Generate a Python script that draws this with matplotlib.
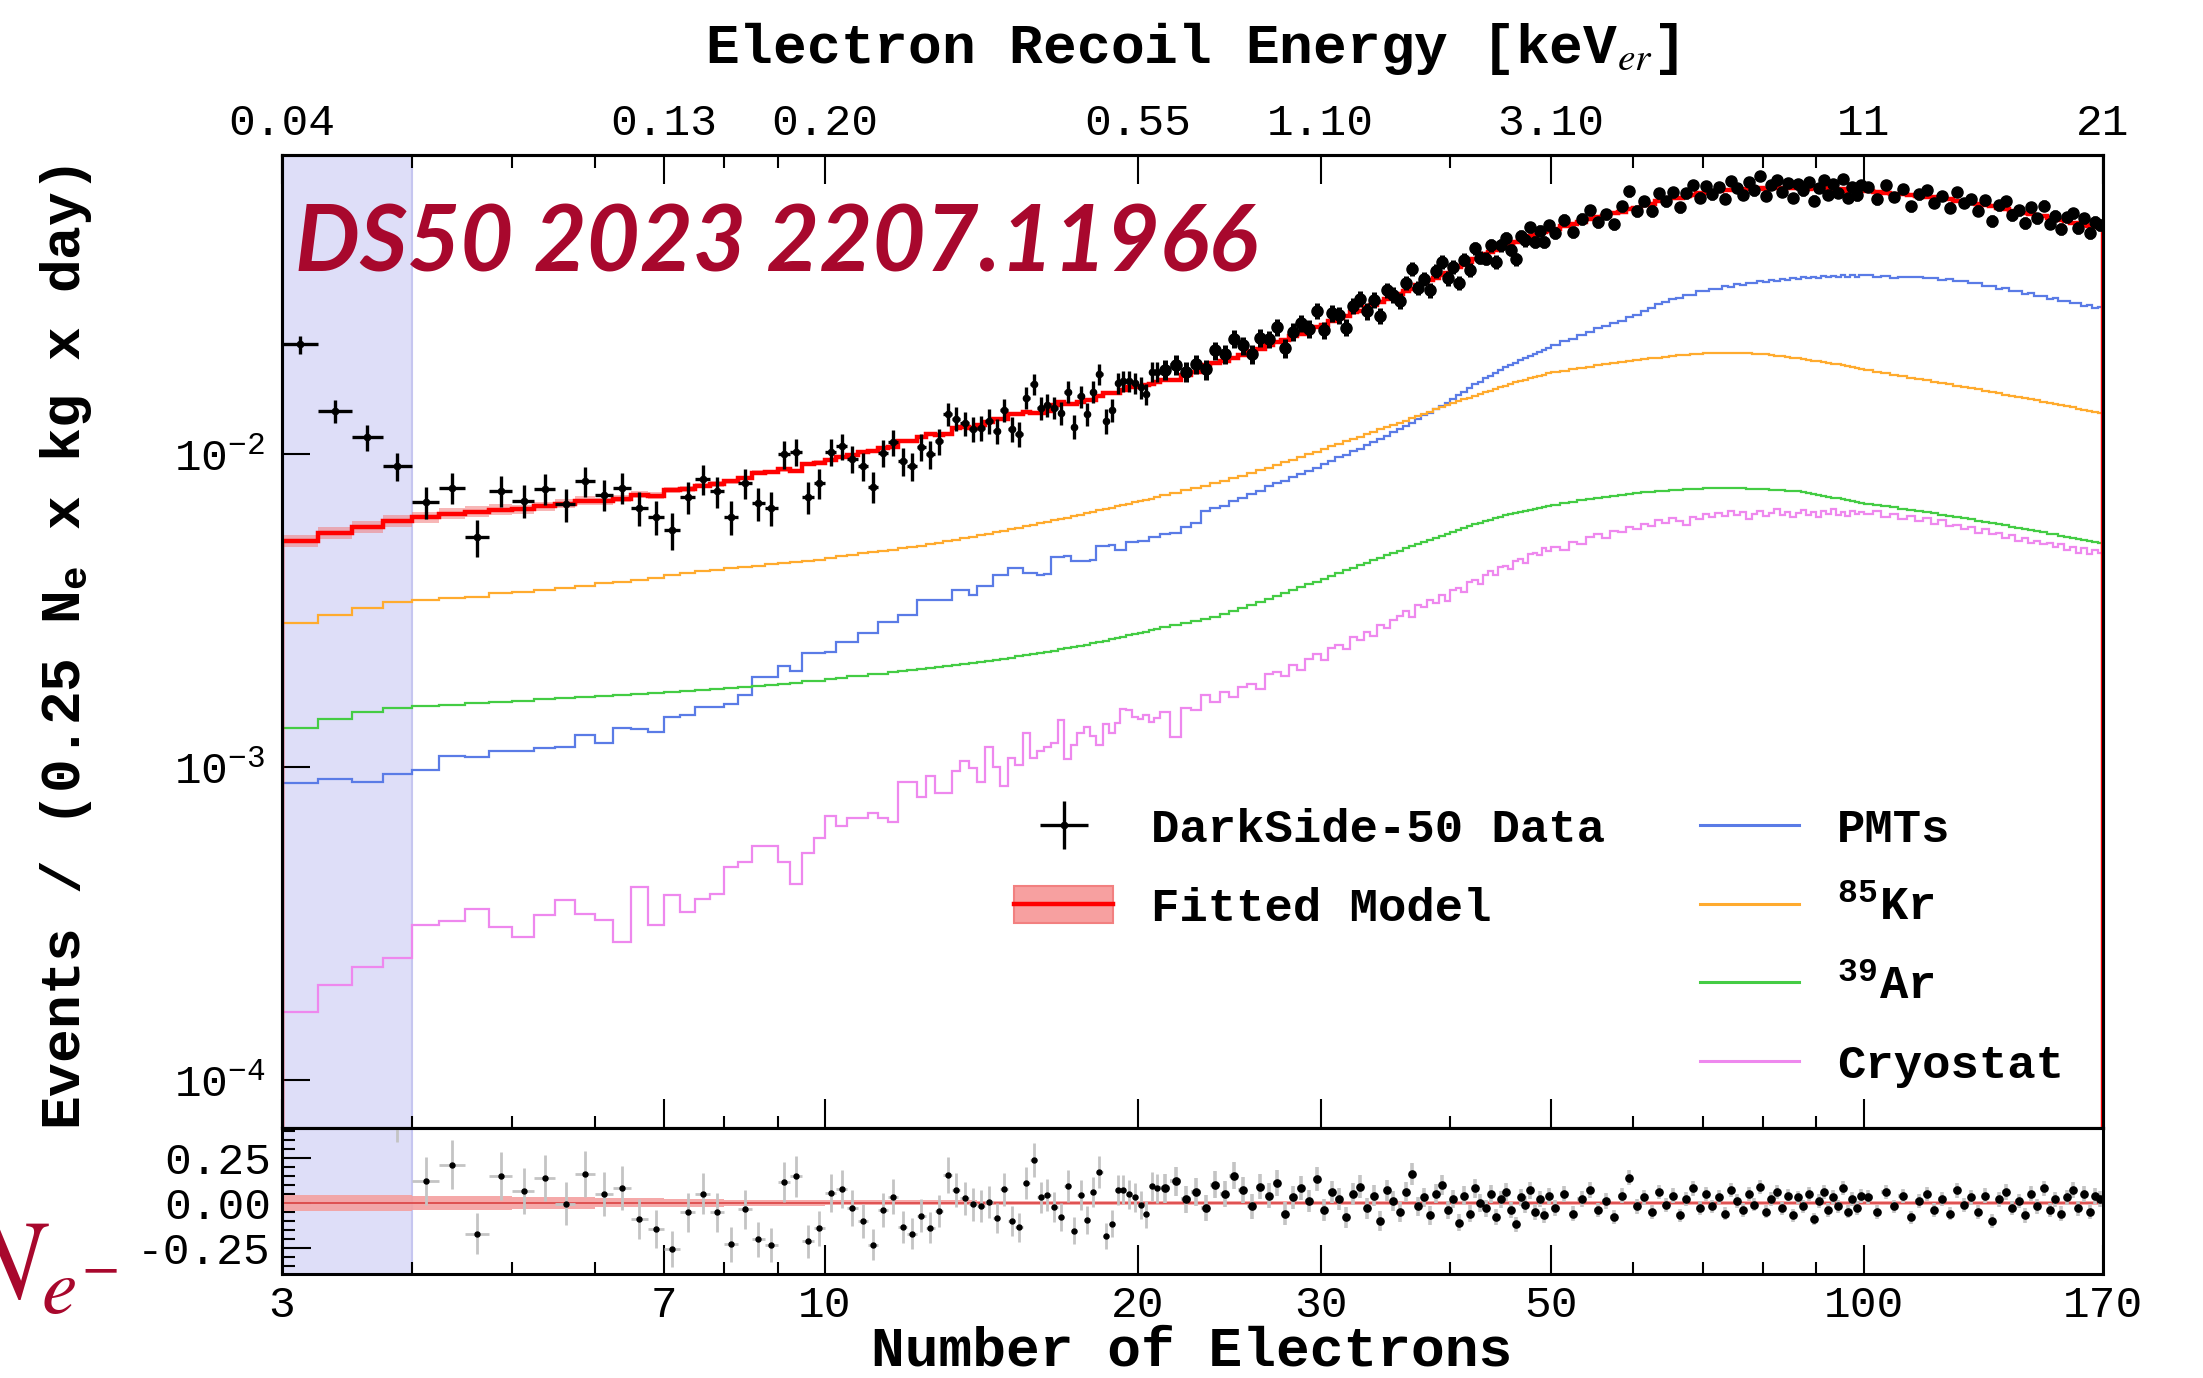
import numpy as np
import matplotlib.pyplot as plt
from matplotlib.ticker import FixedLocator, NullLocator, MultipleLocator
from matplotlib.patches import Patch
from matplotlib.lines import Line2D

plt.rcParams['font.family'] = 'Liberation Mono'
plt.rcParams['mathtext.fontset'] = 'stix'

# bin edges in number of electrons (0.25 Ne bins below 21, coarser above)
edges = np.concatenate([np.arange(3, 21, 0.25), np.arange(21, 50, 0.5),
                        np.arange(50, 100, 1.0), np.arange(100, 170.1, 2.0)])

# rates in units of 1e-3 events / (0.25 Ne x kg x day)
data = np.array([
    22.4, 13.77, 11.32, 9.15, 7.04, 7.82, 5.42, 7.64, 7.10, 7.75,
    6.91, 8.22, 7.43, 7.82, 6.73, 6.30, 5.71, 7.31, 8.34, 7.60,
    6.31, 8.07, 6.96, 6.73, 9.98, 10.14, 7.31, 8.07, 10.14, 10.58,
    9.66, 9.14, 7.86, 10.08, 10.91, 9.51, 9.14, 10.56, 9.98, 11.02,
    13.43, 12.98, 12.56, 12.04, 12.14, 12.77, 11.88, 13.87, 12.04, 11.59,
    15.15, 16.71, 14.00, 14.32, 14.09, 13.55, 15.81, 12.25, 15.31, 13.43,
    15.81, 18.03, 12.77, 13.87, 16.87, 17.14, 17.14, 16.87, 16.33, 15.56,
    18.32, 18.32,
    18.61, 19.30, 18.30, 19.40, 18.64, 21.43, 20.90, 23.35, 22.25, 20.86,
    23.57, 23.28, 25.40, 21.79, 24.57, 26.19, 25.14, 28.70, 24.84, 28.16,
    27.75, 25.36, 29.79, 31.34, 28.60, 31.15, 27.65, 33.36, 32.26, 30.94,
    35.25, 39.03, 33.97, 36.31, 33.43, 38.44, 41.18, 36.40, 39.71, 35.27,
    41.84, 38.72, 45.38, 42.44, 42.11, 46.39, 41.14, 46.42, 49.05, 44.91,
    41.88, 49.72, 48.21, 53.02, 47.64, 51.51, 47.71, 53.79,
    50.93, 56.05, 51.09, 56.32, 60.12, 54.96, 58.29, 54.21, 61.85, 69.05,
    59.84, 64.22, 59.79, 68.07, 64.10, 68.57, 61.38, 68.11, 72.62, 65.96,
    71.75, 67.56, 71.16, 65.46, 74.68, 70.88, 67.27, 73.77, 69.55, 77.32,
    66.91, 72.38, 75.09, 68.79, 73.48, 65.83, 72.68, 69.60, 73.84, 64.45,
    70.82, 74.91, 67.22, 72.64, 68.37, 75.73, 65.90, 71.32, 67.14, 72.20,
    71.31, 65.19, 72.46, 66.40, 70.25, 61.86, 67.56, 69.70, 63.48, 66.87,
    61.25, 68.91, 63.46, 65.29, 59.88, 64.77, 55.68, 62.24, 64.36, 58.03,
    60.12, 54.66, 61.39, 56.57, 62.08, 54.51, 57.67, 52.44, 57.15, 58.69,
    52.92, 56.67, 50.99, 55.20, 54.00]) * 1e-3

kr85 = np.array([
    2.88, 3.06, 3.23, 3.38, 3.41, 3.47, 3.51, 3.59, 3.62, 3.68,
    3.74, 3.80, 3.87, 3.90, 3.95, 4.03, 4.10, 4.16, 4.23, 4.28,
    4.33, 4.37, 4.41, 4.45, 4.48, 4.52, 4.56, 4.60, 4.65, 4.72,
    4.78, 4.82, 4.86, 4.90, 4.95, 5.00, 5.05, 5.10, 5.15, 5.21,
    5.27, 5.33, 5.39, 5.45, 5.51, 5.57, 5.63, 5.70, 5.77, 5.83,
    5.89, 5.95, 6.01, 6.07, 6.14, 6.20, 6.27, 6.34, 6.41, 6.48,
    6.55, 6.61, 6.68, 6.75, 6.81, 6.88, 6.94, 7.01, 7.07, 7.14,
    7.21, 7.28,
    7.38, 7.52, 7.66, 7.80, 7.94, 8.08, 8.22, 8.37, 8.52, 8.70,
    8.88, 9.06, 9.24, 9.42, 9.60, 9.79, 9.98, 10.18, 10.38, 10.58,
    10.78, 10.98, 11.18, 11.38, 11.58, 11.79, 12.00, 12.20, 12.40, 12.60,
    12.80, 13.00, 13.25, 13.45, 13.65, 13.90, 14.10, 14.35, 14.55, 14.75,
    14.95, 15.15, 15.35, 15.55, 15.75, 15.95, 16.15, 16.35, 16.55, 16.75,
    16.95, 17.15, 17.30, 17.50, 17.65, 17.80, 17.95, 18.10,
    18.25, 18.45, 18.65, 18.85, 19.05, 19.25, 19.40, 19.55, 19.70, 19.85,
    20.00, 20.10, 20.25, 20.35, 20.45, 20.60, 20.70, 20.80, 20.90, 20.95,
    21.00, 21.05, 21.10, 21.10, 21.10, 21.10, 21.05, 21.00, 20.95, 20.90,
    20.85, 20.75, 20.65, 20.55, 20.45, 20.35, 20.25, 20.10, 20.00, 19.90,
    19.80, 19.70, 19.55, 19.45, 19.35, 19.20, 19.10, 18.95, 18.85, 18.70,
    18.55, 18.35, 18.15, 17.95, 17.75, 17.55, 17.40, 17.20, 17.05, 16.90,
    16.70, 16.55, 16.40, 16.25, 16.10, 15.95, 15.80, 15.65, 15.50, 15.35,
    15.20, 15.10, 14.95, 14.85, 14.70, 14.60, 14.45, 14.35, 14.20, 14.10,
    13.95, 13.85, 13.70, 13.60, 13.50]) * 1e-3

ar39 = np.array([
    1.34, 1.43, 1.50, 1.55, 1.57, 1.58, 1.60, 1.62, 1.63, 1.65,
    1.66, 1.68, 1.69, 1.70, 1.72, 1.73, 1.74, 1.75, 1.77, 1.78,
    1.79, 1.81, 1.82, 1.83, 1.85, 1.86, 1.88, 1.89, 1.91, 1.93,
    1.95, 1.96, 1.98, 1.99, 2.01, 2.03, 2.04, 2.06, 2.07, 2.09,
    2.11, 2.12, 2.14, 2.15, 2.17, 2.19, 2.20, 2.22, 2.24, 2.26,
    2.28, 2.30, 2.32, 2.34, 2.36, 2.38, 2.40, 2.42, 2.44, 2.46,
    2.49, 2.51, 2.54, 2.56, 2.59, 2.61, 2.64, 2.66, 2.69, 2.71,
    2.74, 2.77,
    2.80, 2.84, 2.88, 2.93, 2.98, 3.03, 3.09, 3.15, 3.22, 3.29,
    3.36, 3.44, 3.52, 3.60, 3.68, 3.76, 3.84, 3.92, 4.00, 4.09,
    4.18, 4.26, 4.34, 4.42, 4.50, 4.59, 4.67, 4.75, 4.84, 4.92,
    5.00, 5.08, 5.16, 5.25, 5.33, 5.41, 5.49, 5.57, 5.65, 5.73,
    5.81, 5.89, 5.97, 6.04, 6.11, 6.18, 6.25, 6.31, 6.37, 6.43,
    6.49, 6.55, 6.60, 6.65, 6.70, 6.75, 6.80, 6.85,
    6.90, 6.98, 7.05, 7.12, 7.19, 7.25, 7.31, 7.37, 7.42, 7.47,
    7.51, 7.55, 7.59, 7.62, 7.65, 7.68, 7.70, 7.72, 7.74, 7.75,
    7.78, 7.79, 7.79, 7.79, 7.79, 7.78, 7.77, 7.76, 7.75, 7.74,
    7.73, 7.71, 7.69, 7.67, 7.65, 7.63, 7.61, 7.57, 7.52, 7.47,
    7.42, 7.37, 7.32, 7.27, 7.22, 7.17, 7.12, 7.07, 7.02, 6.97,
    6.93, 6.87, 6.81, 6.76, 6.70, 6.64, 6.59, 6.53, 6.47, 6.41,
    6.36, 6.30, 6.25, 6.19, 6.13, 6.08, 6.02, 5.97, 5.92, 5.87,
    5.82, 5.77, 5.72, 5.67, 5.63, 5.58, 5.54, 5.49, 5.44, 5.40,
    5.36, 5.32, 5.27, 5.23, 5.19]) * 1e-3

pmts = np.array([
    0.891, 0.921, 0.897, 0.953, 0.984, 1.086, 1.080, 1.130, 1.130, 1.150,
    1.160, 1.270, 1.200, 1.340, 1.330, 1.300, 1.450, 1.470, 1.560, 1.560,
    1.590, 1.700, 1.940, 1.940, 2.110, 2.030, 2.320, 2.320, 2.340, 2.520,
    2.520, 2.690, 2.690, 2.920, 2.920, 3.060, 3.060, 3.410, 3.410, 3.410,
    3.430, 3.670, 3.670, 3.550, 3.790, 3.790, 4.120, 4.120, 4.320, 4.320,
    4.180, 4.180, 4.120, 4.140, 4.700, 4.700, 4.720, 4.550, 4.550, 4.570,
    4.600, 5.090, 5.090, 5.110, 4.930, 4.950, 5.260, 5.260, 5.300, 5.300,
    5.430, 5.450,
    5.55, 5.62, 5.85, 6.05, 6.60, 6.75, 6.85, 7.10, 7.25, 7.45,
    7.60, 7.90, 8.10, 8.20, 8.45, 8.65, 8.85, 9.00, 9.30, 9.50,
    9.80, 9.95, 10.25, 10.40, 10.70, 10.95, 11.20, 11.45, 11.75, 12.00,
    12.30, 12.55, 12.95, 13.30, 13.55, 13.95, 14.30, 14.60, 15.05, 15.40,
    15.85, 16.25, 16.75, 17.00, 17.45, 17.80, 18.20, 18.50, 18.95, 19.30,
    19.60, 19.95, 20.30, 20.60, 20.95, 21.20, 21.55, 21.85,
    22.3, 23.0, 23.4, 24.1, 24.5, 25.2, 25.6, 26.3, 26.7, 27.4,
    27.8, 28.7, 29.2, 30.1, 30.6, 31.4, 31.5, 32.3, 32.3, 33.1,
    33.1, 33.8, 33.7, 34.4, 34.3, 34.9, 34.7, 35.3, 35.1, 35.7,
    35.5, 36.0, 35.8, 36.3, 36.0, 36.5, 36.2, 36.7, 36.4, 36.9,
    36.6, 37.0, 36.7, 37.1, 36.8, 37.2, 36.8, 37.3, 36.9, 37.2,
    37.3, 36.8, 37.1, 36.6, 36.9, 36.7, 36.8, 36.4, 36.6, 36.1,
    36.2, 35.6, 35.7, 35.1, 35.2, 34.5, 34.5, 33.8, 33.9, 33.1,
    33.2, 32.5, 32.6, 31.9, 32.0, 31.4, 31.5, 30.8, 30.9, 30.3,
    30.4, 29.8, 29.9, 29.3, 29.4]) * 1e-3

cryostat = np.array([
    0.166, 0.202, 0.231, 0.246, 0.314, 0.322, 0.354, 0.308, 0.288, 0.337,
    0.378, 0.341, 0.326, 0.277, 0.414, 0.314, 0.391, 0.346, 0.381, 0.394,
    0.480, 0.500, 0.562, 0.562, 0.499, 0.425, 0.533, 0.594, 0.700, 0.649,
    0.689, 0.689, 0.716, 0.689, 0.667, 0.895, 0.895, 0.803, 0.940, 0.830,
    0.830, 0.972, 1.050, 0.996, 0.895, 1.164, 1.000, 0.872, 1.070, 1.020,
    1.285, 1.070, 1.130, 1.164, 1.200, 1.420, 1.060, 1.180, 1.290, 1.350,
    1.260, 1.180, 1.380, 1.285, 1.390, 1.540, 1.520, 1.450, 1.430, 1.470,
    1.400, 1.440,
    1.50, 1.25, 1.55, 1.52, 1.70, 1.62, 1.74, 1.68, 1.80, 1.85,
    1.78, 1.98, 2.02, 1.96, 2.12, 2.05, 2.22, 2.30, 2.20, 2.40,
    2.45, 2.38, 2.60, 2.55, 2.70, 2.62, 2.85, 2.78, 2.95, 3.05,
    3.15, 3.02, 3.30, 3.25, 3.42, 3.35, 3.55, 3.40, 3.68, 3.75,
    3.62, 3.90, 3.95, 3.85, 4.10, 4.25, 4.12, 4.35, 4.40, 4.30,
    4.55, 4.62, 4.50, 4.80, 4.85, 4.75, 5.00, 4.92,
    5.05, 4.95, 5.25, 5.15, 5.45, 5.55, 5.40, 5.70, 5.65, 5.85,
    5.75, 6.00, 5.90, 6.15, 6.05, 6.25, 6.10, 5.95, 6.30, 6.20,
    6.45, 6.30, 6.50, 6.35, 6.60, 6.40, 6.55, 6.20, 6.45, 6.60,
    6.35, 6.50, 6.70, 6.40, 6.55, 6.30, 6.50, 6.65, 6.40, 6.55,
    6.30, 6.60, 6.45, 6.70, 6.40, 6.55, 6.35, 6.60, 6.45, 6.55,
    6.45, 6.60, 6.30, 6.45, 6.20, 6.35, 6.10, 6.25, 6.00, 6.15,
    5.90, 5.95, 5.75, 5.85, 5.60, 5.75, 5.55, 5.60, 5.40, 5.50,
    5.30, 5.40, 5.20, 5.30, 5.15, 5.20, 5.05, 5.15, 4.95, 5.05,
    4.85, 5.00, 4.80, 4.95, 4.85]) * 1e-3

# relative half width of the fit uncertainty band
band_levels = [0.044, 0.040, 0.033, 0.026, 0.021, 0.016, 0.013, 0.011, 0.010]
band_counts = [4, 4, 4, 4, 4, 8, 16, 28, 143]
band_rel = np.repeat(band_levels, band_counts)

exposure = 10000.0   # counts per unit rate in one 0.25 Ne bin

ne_ticks = [3, 7, 10, 20, 30, 50, 100, 170]
ne_minor = [4, 5, 6, 8, 9, 40, 60, 70, 80, 90]
kev_labels = ['0.04', '0.13', '0.20', '0.55', '1.10', '3.10', '11', '21']

centers = 0.5 * (edges[1:] + edges[:-1])
halfw = 0.5 * np.diff(edges)
model = kr85 + ar39 + pmts + cryostat
data_err = np.sqrt(data * exposure) / exposure
resid = data / model - 1
resid_err = data_err / model
lo = centers < 21     # sparse region, thin crosses
hi = ~lo              # dense region, bigger dots

crimson = '#a8082d'
c_pmt = '#5a7be6'
c_kr = '#ffab2e'
c_ar = '#44cc44'
c_cryo = '#ee88ee'

fig = plt.figure(figsize=(22.03, 13.78), dpi=100)
ax = fig.add_axes([0.1280, 0.1814, 0.8266, 0.7061])
axr = fig.add_axes([0.1280, 0.0755, 0.8266, 0.1059], sharex=ax)

for a in (ax, axr):
    a.axvspan(3, 4, color='#dedef8', zorder=0, lw=0)
    a.axvline(4, color='#c6c6f0', lw=1.5, zorder=0.5)
    for s in a.spines.values():
        s.set_linewidth(2.2)

# main panel
ax.stairs(pmts, edges, color=c_pmt, lw=1.6, zorder=2)
ax.stairs(kr85, edges, color=c_kr, lw=1.6, zorder=2)
ax.stairs(ar39, edges, color=c_ar, lw=1.6, zorder=2)
ax.stairs(cryostat, edges, color=c_cryo, lw=1.6, zorder=2)
ax.stairs(model * (1 + band_rel), edges, baseline=model * (1 - band_rel),
          fill=True, color='#f27c7c', alpha=0.55, lw=0, zorder=3)
ax.stairs(model, edges, baseline=1e-9, color='red', lw=3.2, zorder=4)
ax.errorbar(centers[lo], data[lo], xerr=halfw[lo], yerr=data_err[lo], fmt='o',
            ms=4.5, color='black', elinewidth=2.4, capsize=0, zorder=5)
ax.errorbar(centers[hi], data[hi], xerr=halfw[hi], yerr=data_err[hi], fmt='o',
            ms=8, color='black', elinewidth=3.6, capsize=0, zorder=5)

ax.set_xscale('log')
ax.set_yscale('log')
ax.set_xlim(3, 170)
ax.set_ylim(7.05e-5, 0.0902)
ax.yaxis.set_major_locator(FixedLocator([1e-4, 1e-3, 1e-2]))
ax.yaxis.set_minor_locator(NullLocator())
ax.tick_params(axis='y', which='major', direction='in', length=20, width=1.5,
               labelsize=32, pad=12, right=False)
ax.tick_params(axis='x', which='both', direction='in', bottom=True, top=False,
               labelbottom=False, width=1.5)
ax.tick_params(axis='x', which='major', length=21)
ax.tick_params(axis='x', which='minor', length=9)

# residual panel
axr.stairs(band_rel, edges, baseline=-band_rel, fill=True, color='#f4a0a0',
           alpha=0.9, lw=0, zorder=2)
axr.stairs(np.zeros_like(model), edges, color='#dd4a4a', lw=1.3, zorder=2.5)
axr.errorbar(centers[lo], resid[lo], xerr=halfw[lo], yerr=resid_err[lo],
             fmt='o', ms=3.6, mfc='black', mec='black', ecolor='#c4c4c4',
             elinewidth=2, capsize=0, zorder=3)
axr.errorbar(centers[hi], resid[hi], xerr=halfw[hi], yerr=resid_err[hi],
             fmt='o', ms=5.2, mfc='black', mec='black', ecolor='#c4c4c4',
             elinewidth=2.6, capsize=0, zorder=3)
axr.set_ylim(-0.395, 0.415)
axr.set_xticks(ne_ticks, labels=[str(t) for t in ne_ticks])
axr.xaxis.set_minor_locator(FixedLocator(ne_minor))
axr.set_yticks([-0.25, 0.0, 0.25], labels=['-0.25', '0.00', '0.25'])
axr.yaxis.set_minor_locator(MultipleLocator(0.05))
axr.tick_params(axis='both', which='both', direction='in', width=1.5,
                labelsize=32, top=False, right=False)
axr.tick_params(axis='both', which='major', length=21)
axr.tick_params(axis='both', which='minor', length=9)
axr.tick_params(axis='x', pad=8)
axr.tick_params(axis='y', pad=8)

# top energy axis
axt = ax.twiny()
axt.set_xscale('log')
axt.set_xlim(3, 170)
axt.set_xticks(ne_ticks, labels=kev_labels)
axt.xaxis.set_minor_locator(FixedLocator(ne_minor))
axt.tick_params(axis='x', which='both', direction='in', width=1.5,
                labelsize=32, pad=8)
axt.tick_params(axis='x', which='major', length=21)
axt.tick_params(axis='x', which='minor', length=9)
for s in axt.spines.values():
    s.set_linewidth(2.2)

lab = dict(family='Liberation Mono', weight='bold', size=40.5)
fig.text(0.541, 1 - 63 / 1378, r'Electron Recoil Energy [keV$_{er}$]',
         ha='center', va='baseline', fontdict=lab)
fig.text(0.541, 1 - 1366 / 1378, 'Number of Electrons', ha='center',
         va='baseline', fontdict=lab)
fig.text(66 / 2203, 0.530, r'Events / (0.25 N$_{\mathdefault{e}}$ x kg x day)',
         rotation=90, ha='center', va='center', fontdict=lab)

fig.text(295 / 2203, 1 - 271 / 1378, 'DS50 2023 2207.11966', color=crimson,
         fontsize=66, family='Lato', weight='bold', style='italic',
         va='baseline')
fig.text(-0.017, 1 - 1299 / 1378, r'$N_{e^{-}}$', color=crimson, fontsize=82,
         va='baseline', ha='left')

# legends
legfont = dict(family='Liberation Mono', weight='bold', size=34)
h_data = (Line2D([], [], color='black', marker='+', markersize=34,
                 markeredgewidth=2.4, linestyle='none'),
          Line2D([], [], color='black', marker='o', markersize=4.5,
                 linestyle='none'))
h_model = (Patch(facecolor='#f7a0a0', edgecolor='#f28080', lw=1.5),
           Line2D([], [], color='red', lw=3.2))
leg_kw = dict(loc='upper left', prop=legfont, frameon=False, handlelength=2.1,
              handleheight=0.8, handletextpad=0.8, labelspacing=0.72,
              borderpad=0, borderaxespad=0)
fig.legend([h_data, h_model], ['DarkSide-50 Data', 'Fitted Model'],
           bbox_to_anchor=(1014 / 2203, 1 - 808 / 1378), **leg_kw)
comp_handles = [Line2D([], [], color=c, lw=2.2) for c in (c_pmt, c_kr, c_ar, c_cryo)]
comp_labels = ['PMTs', r'$^{\mathdefault{85}}$Kr', r'$^{\mathdefault{39}}$Ar',
               'Cryostat']
fig.legend(comp_handles, comp_labels,
           bbox_to_anchor=(1700 / 2203, 1 - 808 / 1378), **leg_kw)

fig.savefig('out.png', dpi=100)
